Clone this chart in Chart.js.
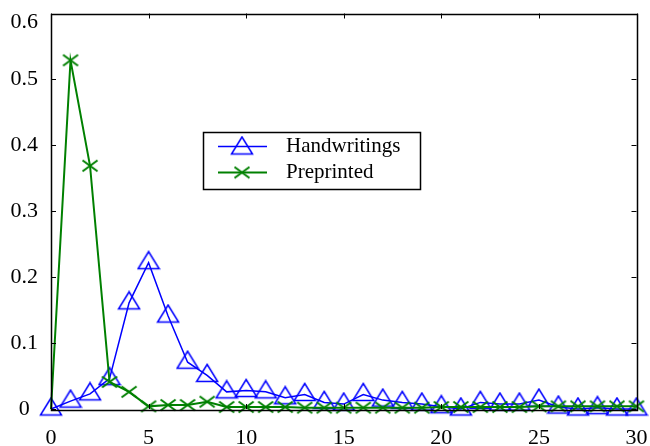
<!DOCTYPE html>
<html>
<head>
<meta charset="utf-8">
<script src="https://cdn.jsdelivr.net/npm/chart.js@4/dist/chart.umd.min.js"></script>
<style>
html,body{margin:0;padding:0;background:#fff;}
#wrap{width:650px;height:446px;position:relative;}
</style>
</head>
<body>
<div id="wrap"><canvas id="c" width="650" height="446"></canvas></div>
<script>
// ---- data ----
const xValues = [0,1,2,3,4,5,6,7,8,9,10,11,12,13,14,15,16,17,18,19,20,21,22,23,24,25,26,27,28,29,30];
const handwritings = [0, 0.012, 0.023, 0.046, 0.161, 0.222, 0.141, 0.071, 0.051, 0.026, 0.028, 0.026, 0.017, 0.022, 0.010, 0.0075, 0.022, 0.0135, 0.010, 0.0075, 0.0035, 0, 0.010, 0.0075, 0.0075, 0.0135, 0.003, 0, 0.002, 0, 0];
const preprinted   = [0, 0.529, 0.369, 0.041, 0.026, 0.004, 0.006, 0.006, 0.011, 0.003, 0.003, 0.003, 0.003, 0.002, 0.002, 0.002, 0.002, 0.002, 0.002, 0.002, 0.003, 0.003, 0.003, 0.003, 0.003, 0.004, 0.004, 0.004, 0.004, 0.004, 0.004];
const seriesLabels = ['Handwritings', 'Preprinted'];
const xTicks = [0, 5, 10, 15, 20, 25, 30];
const yTicks = [0, 0.1, 0.2, 0.3, 0.4, 0.5, 0.6];

const BLUE = '#0000ff';
const GREEN = '#008000';
const FONT = "'Liberation Serif', 'Times New Roman', serif";

function triangleImg() {
  const c = document.createElement('canvas');
  c.width = 24; c.height = 25;
  const g = c.getContext('2d');
  g.strokeStyle = BLUE; g.lineWidth = 1.5;
  g.beginPath();
  g.moveTo(12, 1.5); g.lineTo(1.5, 18.5); g.lineTo(22.5, 18.5); g.closePath();
  g.stroke();
  return c;
}
function crossImg() {
  const c = document.createElement('canvas');
  c.width = 18; c.height = 14;
  const g = c.getContext('2d');
  g.strokeStyle = GREEN; g.lineWidth = 2;
  g.beginPath();
  g.moveTo(1.5, 1.5); g.lineTo(16.5, 12.5);
  g.moveTo(16.5, 1.5); g.lineTo(1.5, 12.5);
  g.stroke();
  return c;
}
const triImg = triangleImg();
const xImg = crossImg();

const frameAndTicks = {
  id: 'frameAndTicks',
  afterDatasetsDraw(chart) {
    const {ctx, chartArea: a, scales: {x, y}} = chart;
    ctx.save();
    ctx.strokeStyle = '#000';
    ctx.lineWidth = 1;
    const L = 5;
    ctx.beginPath();
    xTicks.forEach(v => {
      const px = Math.round(x.getPixelForValue(v)) + 0.5;
      ctx.moveTo(px, a.bottom); ctx.lineTo(px, a.bottom - L);
      ctx.moveTo(px, a.top); ctx.lineTo(px, a.top + L);
    });
    yTicks.forEach(v => {
      const py = Math.round(y.getPixelForValue(v)) + 0.5;
      ctx.moveTo(a.left, py); ctx.lineTo(a.left + L, py);
      ctx.moveTo(a.right, py); ctx.lineTo(a.right - L, py);
    });
    ctx.stroke();
    ctx.lineWidth = 1.5;
    ctx.strokeRect(Math.round(a.left) + 0.5, Math.round(a.top) + 0.5, Math.round(a.right - a.left), Math.round(a.bottom - a.top));
    ctx.restore();
  },
  afterDraw(chart) {
    // legend box
    const {ctx} = chart;
    const bx = 203, by = 132, bw = 217, bh = 57;
    ctx.save();
    ctx.fillStyle = '#fff';
    ctx.fillRect(bx, by, bw, bh);
    ctx.strokeStyle = '#000';
    ctx.lineWidth = 1.5;
    ctx.strokeRect(bx + 0.5, by + 0.5, bw, bh);
    const rows = [
      {y: 146.5, color: BLUE, img: triImg, lw: 1.5, dy: 1.5},
      {y: 172.5, color: GREEN, img: xImg, lw: 2, dy: 0}
    ];
    ctx.font = '21px ' + FONT;
    ctx.textBaseline = 'middle';
    ctx.textAlign = 'left';
    rows.forEach((r, i) => {
      ctx.strokeStyle = r.color; ctx.lineWidth = r.lw;
      ctx.beginPath(); ctx.moveTo(218, r.y); ctx.lineTo(267, r.y); ctx.stroke();
      ctx.drawImage(r.img, 242 - r.img.width / 2, r.y + r.dy - r.img.height / 2);
      ctx.fillStyle = '#000';
      ctx.fillText(chart.data.datasets[i].label, 286, r.y);
    });
    ctx.restore();
  }
};

new Chart(document.getElementById('c'), {
  type: 'line',
  data: {
    datasets: [
      {
        label: seriesLabels[0],
        data: xValues.map((x, i) => ({x, y: handwritings[i]})),
        borderColor: BLUE, borderWidth: 1.5,
        pointStyle: triImg, pointRadius: 12,
        clip: false, order: 2, tension: 0
      },
      {
        label: seriesLabels[1],
        data: xValues.map((x, i) => ({x, y: preprinted[i]})),
        borderColor: GREEN, borderWidth: 2,
        pointStyle: (ctx) => ctx.dataIndex === 0 ? false : xImg, pointRadius: 8,
        clip: false, order: 1, tension: 0
      }
    ]
  },
  options: {
    responsive: false,
    animation: false,
    events: [],
    layout: {padding: {left: 0, right: 12, top: 9, bottom: 0}},
    plugins: {legend: {display: false}, tooltip: {enabled: false}},
    scales: {
      x: {
        type: 'linear', min: 0, max: 30,
        afterBuildTicks: (s) => { s.ticks = xTicks.map(v => ({value: v})); },
        afterFit: (s) => { s.height = 37; s.paddingLeft = 0; s.paddingRight = 0; },
        grid: {display: false, drawTicks: false},
        border: {display: false},
        ticks: {color: '#000', font: {family: FONT, size: 22}, padding: 16, maxRotation: 0}
      },
      y: {
        type: 'linear', min: 0, max: 0.6,
        afterBuildTicks: (s) => { s.ticks = yTicks.map(v => ({value: v})); },
        afterFit: (s) => { s.width = 51; s.paddingTop = 0; s.paddingBottom = 0; },
        grid: {display: false, drawTicks: false},
        border: {display: false},
        ticks: {
          color: '#000', padding: 13, crossAlign: 'center',
          font: (ctx) => ({family: FONT, size: 22, lineHeight: ctx.index === yTicks.length - 1 ? '17px' : 1.2}),
          callback: (v, i) => i === yTicks.length - 1 ? ['', String(v)] : String(Math.round(v * 10) / 10)
        }
      }
    }
  },
  plugins: [frameAndTicks]
});
</script>
</body>
</html>
